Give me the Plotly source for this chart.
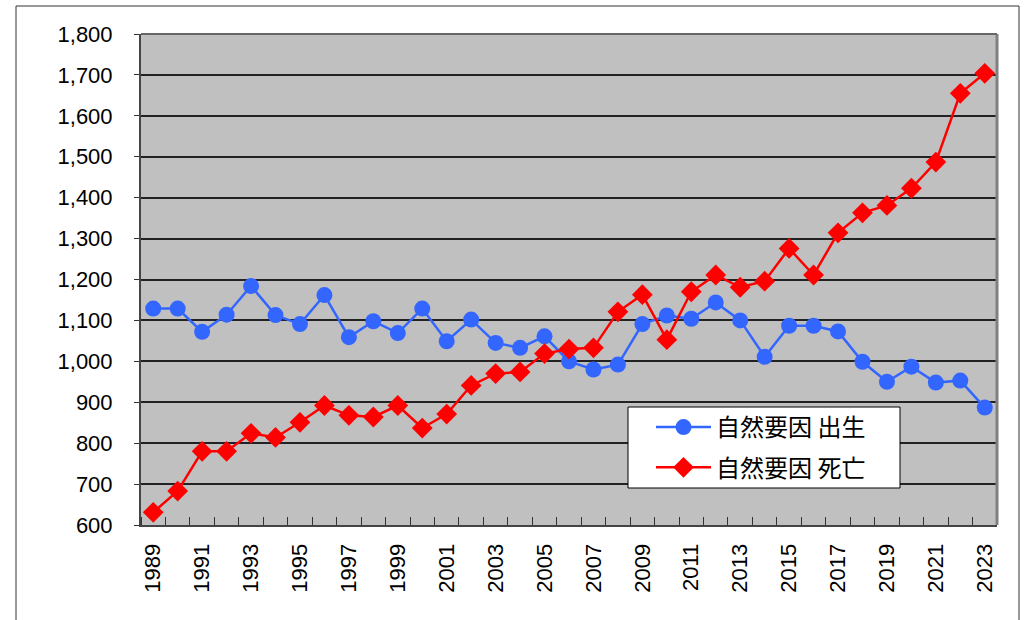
import plotly.graph_objects as go

years = list(range(1989, 2024))
births = [1129, 1129, 1072, 1114, 1184, 1113, 1091, 1162, 1059, 1098, 1069, 1129,
          1049, 1102, 1045, 1033, 1061, 1000, 980, 992, 1091, 1112, 1104, 1144,
          1100, 1011, 1087, 1087, 1073, 999, 950, 987, 948, 953, 887]
deaths = [631, 683, 780, 780, 824, 814, 851, 892, 868, 864, 892, 837,
          871, 941, 970, 974, 1019, 1030, 1033, 1121, 1163, 1053, 1170, 1211,
          1181, 1196, 1276, 1211, 1314, 1363, 1381, 1423, 1487, 1655, 1704]
name_births = "自然要因 出生"
name_deaths = "自然要因 死亡"
ytick_vals = list(range(600, 1801, 100))
xtick_vals = list(range(1989, 2024, 2))

fig = go.Figure()
fig.add_trace(go.Scatter(x=years, y=births, name=name_births, mode="lines+markers",
                         legendgroup="b",
                         line=dict(color="#3366FF", width=2.5),
                         marker=dict(symbol="circle", size=16, color="#3366FF")))
fig.add_trace(go.Scatter(x=years, y=deaths, name=name_deaths, mode="lines+markers",
                         legendgroup="d",
                         line=dict(color="#FF0000", width=2.5),
                         marker=dict(symbol="diamond", size=16, color="#FF0000")))

L, R, T, B = 141, 28, 34, 95
W, H = 1025, 620
pw, ph = W - L - R, H - T - B

fig.update_layout(
    width=W, height=H,
    margin=dict(l=L, r=R, t=T, b=B, pad=0),
    paper_bgcolor="white",
    plot_bgcolor="#C0C0C0",
    font=dict(family="Liberation Sans, Arial, sans-serif", size=22, color="black"),
    showlegend=True,
    legend=dict(x=(651 - L) / pw, y=(H - B - 405) / ph, xanchor="left", yanchor="top",
                bgcolor="rgba(0,0,0,0)", borderwidth=0,
                font=dict(family="Noto Sans CJK JP", size=24, color="black"),
                itemwidth=55, traceorder="grouped", tracegroupgap=6),
    xaxis=dict(range=[1988.5, 2023.5], tickvals=xtick_vals,
               ticktext=[str(v) for v in xtick_vals], tickangle=-90,
               ticks="", showgrid=False, zeroline=False,
               showline=True, linecolor="#444444", linewidth=2,
               mirror=False, ticklabelstandoff=8,
               minor=dict(tick0=1988.5, dtick=1, ticks="inside", ticklen=8,
                          tickcolor="#333333", tickwidth=1, showgrid=False),
               tickfont=dict(size=22)),
    yaxis=dict(range=[600, 1800], tickvals=ytick_vals,
               ticktext=[f"{v:,}" for v in ytick_vals],
               ticks="outside", ticklen=5, tickcolor="#333333",
               showgrid=True, gridcolor="#222222", gridwidth=1.5, zeroline=False,
               showline=True, linecolor="#444444", linewidth=2,
               ticklabelstandoff=17, tickfont=dict(size=22)),
)

# right and top border of plot area
fig.add_shape(type="line", xref="paper", yref="paper", x0=1, x1=1, y0=0, y1=1,
              line=dict(color="#808080", width=3))
fig.add_shape(type="line", xref="paper", yref="paper", x0=0, x1=1, y0=1, y1=1,
              line=dict(color="#666666", width=2))
# legend box
fig.add_shape(type="rect", xref="paper", yref="paper",
              x0=(628 - L) / pw, x1=(900 - L) / pw,
              y0=(H - B - 488) / ph, y1=(H - B - 407) / ph,
              fillcolor="white", line=dict(color="black", width=1), layer="above")
# outer chart border
fig.add_shape(type="rect", xref="paper", yref="paper",
              x0=(16 - L) / pw, x1=(1019 - L) / pw,
              y0=-0.5, y1=(H - B - 6) / ph,
              line=dict(color="#333333", width=1), layer="below")

fig.write_html("out.html", config={"displayModeBar": False},
               post_script="document.body.style.margin='0px';")
